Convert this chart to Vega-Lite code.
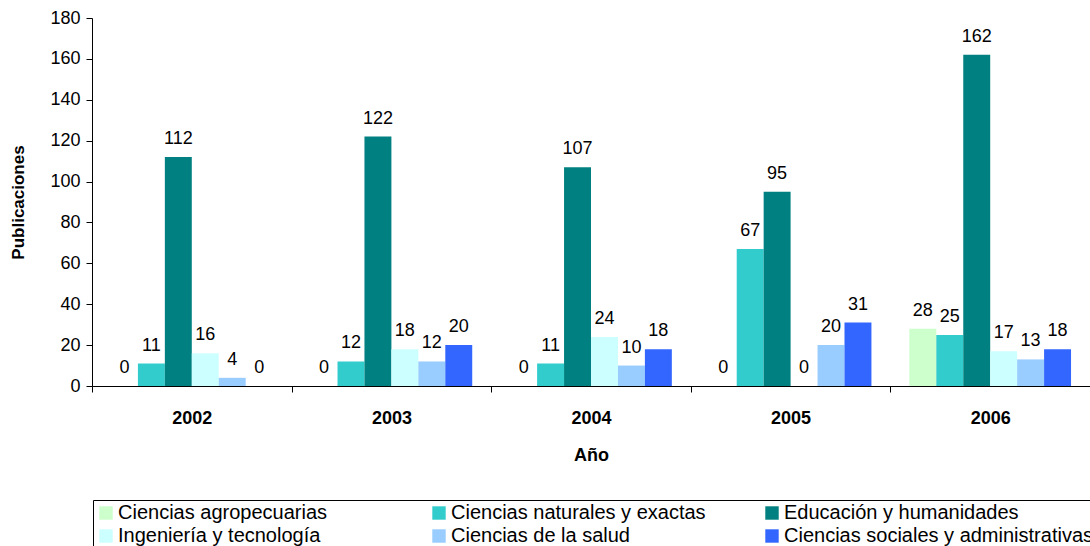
{
  "$schema": "https://vega.github.io/schema/vega-lite/v6.json",
  "width": 998,
  "height": 368,
  "autosize": {"type": "none"},
  "padding": {"left": 92, "top": 18, "right": 0, "bottom": 160},
  "background": "white",
  "config": {
    "font": "Liberation Sans",
    "view": {"stroke": null},
    "axis": {"domainColor": "#000", "tickColor": "#000", "labelColor": "#000", "titleColor": "#000"}
  },
  "data": {
    "values": [
      {"anio": "2002", "area": "Ciencias agropecuarias", "valor": 0},
      {"anio": "2002", "area": "Ciencias naturales y exactas", "valor": 11},
      {"anio": "2002", "area": "Educación y humanidades", "valor": 112},
      {"anio": "2002", "area": "Ingeniería y tecnología", "valor": 16},
      {"anio": "2002", "area": "Ciencias de la salud", "valor": 4},
      {"anio": "2002", "area": "Ciencias sociales y administrativas", "valor": 0},
      {"anio": "2003", "area": "Ciencias agropecuarias", "valor": 0},
      {"anio": "2003", "area": "Ciencias naturales y exactas", "valor": 12},
      {"anio": "2003", "area": "Educación y humanidades", "valor": 122},
      {"anio": "2003", "area": "Ingeniería y tecnología", "valor": 18},
      {"anio": "2003", "area": "Ciencias de la salud", "valor": 12},
      {"anio": "2003", "area": "Ciencias sociales y administrativas", "valor": 20},
      {"anio": "2004", "area": "Ciencias agropecuarias", "valor": 0},
      {"anio": "2004", "area": "Ciencias naturales y exactas", "valor": 11},
      {"anio": "2004", "area": "Educación y humanidades", "valor": 107},
      {"anio": "2004", "area": "Ingeniería y tecnología", "valor": 24},
      {"anio": "2004", "area": "Ciencias de la salud", "valor": 10},
      {"anio": "2004", "area": "Ciencias sociales y administrativas", "valor": 18},
      {"anio": "2005", "area": "Ciencias agropecuarias", "valor": 0},
      {"anio": "2005", "area": "Ciencias naturales y exactas", "valor": 67},
      {"anio": "2005", "area": "Educación y humanidades", "valor": 95},
      {"anio": "2005", "area": "Ingeniería y tecnología", "valor": 0},
      {"anio": "2005", "area": "Ciencias de la salud", "valor": 20},
      {"anio": "2005", "area": "Ciencias sociales y administrativas", "valor": 31},
      {"anio": "2006", "area": "Ciencias agropecuarias", "valor": 28},
      {"anio": "2006", "area": "Ciencias naturales y exactas", "valor": 25},
      {"anio": "2006", "area": "Educación y humanidades", "valor": 162},
      {"anio": "2006", "area": "Ingeniería y tecnología", "valor": 17},
      {"anio": "2006", "area": "Ciencias de la salud", "valor": 13},
      {"anio": "2006", "area": "Ciencias sociales y administrativas", "valor": 18}
    ]
  },
  "encoding": {
    "x": {
      "field": "anio", "type": "nominal", "title": "Año",
      "scale": {"paddingInner": 0.19, "paddingOuter": 0.095},
      "axis": {
        "bandPosition": 0, "tickOffset": -18.96, "labelOffset": 18.96, "labelAngle": 0,
        "labelFontSize": 18, "labelFontWeight": "bold", "labelPadding": 17,
        "tickSize": 6, "titleFontSize": 18, "titleFontWeight": "bold", "titlePadding": 19
      }
    },
    "xOffset": {
      "field": "area", "type": "nominal",
      "sort": ["Ciencias agropecuarias", "Ciencias naturales y exactas", "Educación y humanidades", "Ingeniería y tecnología", "Ciencias de la salud", "Ciencias sociales y administrativas"],
      "scale": {"paddingInner": 0, "paddingOuter": 0}
    },
    "y": {
      "field": "valor", "type": "quantitative", "title": "Publicaciones",
      "scale": {"domain": [0, 180]},
      "axis": {
        "values": [0, 20, 40, 60, 80, 100, 120, 140, 160, 180],
        "grid": false, "tickSize": 6, "labelFontSize": 18, "labelPadding": 6,
        "titleFontSize": 17, "titleFontWeight": "bold", "titlePadding": 22
      }
    }
  },
  "layer": [
    {
      "mark": {"type": "bar"},
      "encoding": {
        "color": {
          "field": "area", "type": "nominal",
          "scale": {
            "domain": ["Ciencias agropecuarias", "Ciencias naturales y exactas", "Educación y humanidades", "Ingeniería y tecnología", "Ciencias de la salud", "Ciencias sociales y administrativas"],
            "range": ["#CCFFCC", "#33CCCC", "#008080", "#CCFFFF", "#99CCFF", "#3366FF"]
          },
          "legend": {
            "title": null, "orient": "none", "legendX": 1, "legendY": 482,
            "columns": 3, "direction": "horizontal", "gridAlign": "all",
            "columnPadding": 1, "rowPadding": 3, "padding": 3,
            "strokeColor": "#000", "symbolType": "square", "symbolSize": 180,
            "symbolStrokeWidth": 0, "symbolOpacity": 1, "labelFontSize": 20, "labelColor": "#000",
            "labelOffset": 2, "labelLimit": 500
          }
        }
      }
    },
    {
      "mark": {"type": "text", "baseline": "bottom", "dy": -9, "fontSize": 18, "color": "#000"},
      "encoding": {"text": {"field": "valor", "type": "quantitative"}}
    }
  ]
}
